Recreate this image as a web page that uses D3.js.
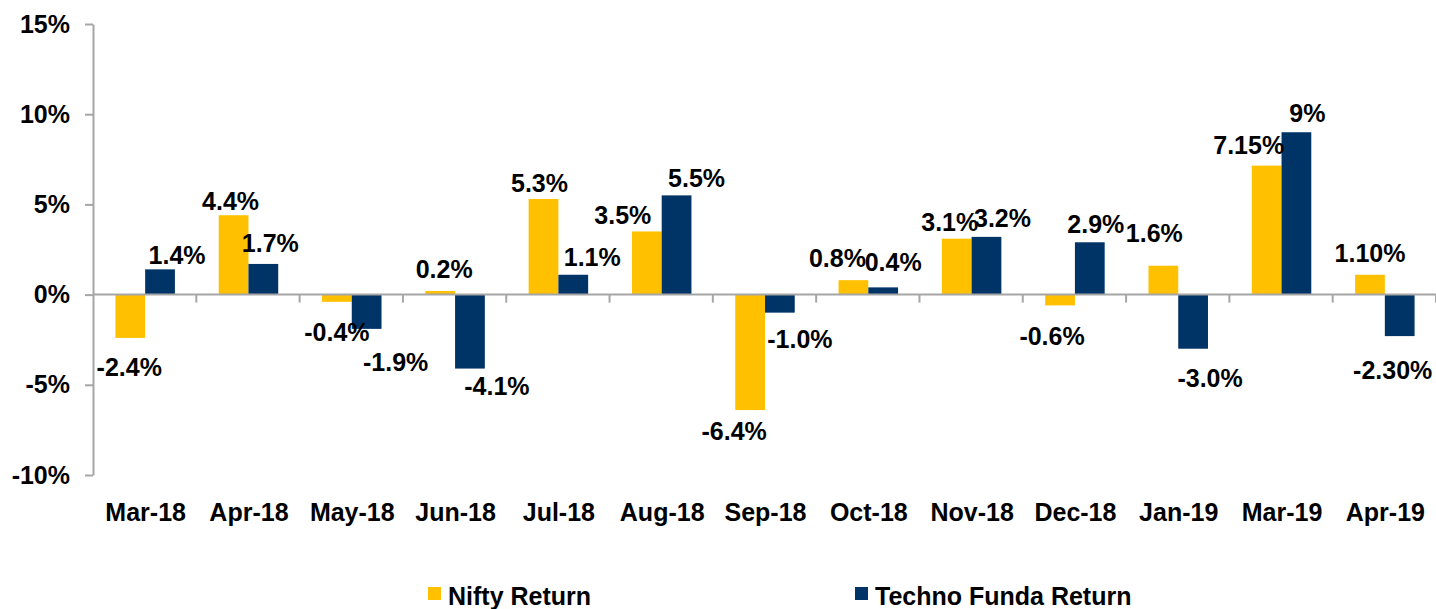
<!DOCTYPE html>
<html>
<head>
<meta charset="utf-8">
<script src="https://cdn.jsdelivr.net/npm/d3@7"></script>
<style>
  html, body { margin: 0; padding: 0; background: #fff; }
  svg text { font-family: "Liberation Sans", Arial, sans-serif; font-weight: bold; fill: #000; }
</style>
</head>
<body>
<svg id="chart" width="1436" height="609"></svg>
<script>
// data
const months = ['Mar-18', 'Apr-18', 'May-18', 'Jun-18', 'Jul-18', 'Aug-18', 'Sep-18',
  'Oct-18', 'Nov-18', 'Dec-18', 'Jan-19', 'Mar-19', 'Apr-19']
const niftyReturn = [-2.4, 4.4, -0.4, 0.2, 5.3, 3.5, -6.4, 0.8, 3.1, -0.6, 1.6, 7.15, 1.10]
const technoReturn = [1.4, 1.7, -1.9, -4.1, 1.1, 5.5, -1.0, 0.4, 3.2, 2.9, -3.0, 9, -2.30]
const niftyLabels = ['-2.4%', '4.4%', '-0.4%', '0.2%', '5.3%', '3.5%', '-6.4%', '0.8%', '3.1%', '-0.6%', '1.6%', '7.15%', '1.10%']
const technoLabels = ['1.4%', '1.7%', '-1.9%', '-4.1%', '1.1%', '5.5%', '-1.0%', '0.4%', '3.2%', '2.9%', '-3.0%', '9%', '-2.30%']
const yTicks = [-10, -5, 0, 5, 10, 15]
const seriesNames = ['Nifty Return', 'Techno Funda Return']

// layout / style
const COLORS = ['#FFC000', '#003366']
const AXIS_COLOR = '#a6a6a6'
const plot = { left: 93, right: 1436, top: 24, bottom: 475 }
const groupWidth = 59.5
// hand placed label shifts from the original (dx, dy) relative to default spot
const niftyNudge = [[-1, 0], [-3, 3], [0, 1], [4, -5], [-4, 1], [-24, 1], [-16, -8], [-16, -5], [-7, 0], [-8, 2], [-9, -16], [-18, -4], [0, -5]]
const technoNudge = [[17, 3], [7, -4], [29, 4], [27, -12], [19, -1], [20, 0], [20, -3], [10, -8], [16, -2], [6, -1], [17, 0], [11, -2], [-7, 5]]

const svg = d3.select('#chart')

const x = d3.scaleBand()
  .domain(months)
  .range([plot.left, plot.right])
  .paddingInner(0)
  .paddingOuter(0)

const xInner = d3.scaleBand()
  .domain([0, 1])
  .range([0, groupWidth])

const y = d3.scaleLinear()
  .domain([-10, 15])
  .range([plot.bottom, plot.top])

const rows = months.map((m, i) => ({
  month: m,
  values: [niftyReturn[i], technoReturn[i]],
  labels: [niftyLabels[i], technoLabels[i]],
  nudges: [niftyNudge[i], technoNudge[i]]
}))

// y axis
const yAxis = d3.axisLeft(y)
  .tickValues(yTicks)
  .tickFormat(d => d + '%')
  .tickSize(8)
  .tickSizeOuter(0)
  .tickPadding(15)

const yAxisGroup = svg.append('g')
  .attr('transform', `translate(${plot.left},0)`)
  .call(yAxis)
yAxisGroup.select('.domain').attr('stroke', AXIS_COLOR).attr('stroke-width', 2)
yAxisGroup.selectAll('.tick line').attr('stroke', AXIS_COLOR).attr('stroke-width', 2)
yAxisGroup.selectAll('.tick text')
  .attr('font-size', 25)
  .attr('font-family', '"Liberation Sans", Arial, sans-serif')
  .attr('font-weight', 'bold')
  .attr('fill', '#000')

// bars
const groups = svg.append('g')
  .selectAll('g.month')
  .data(rows)
  .join('g')
  .attr('class', 'month')
  .attr('transform', d => `translate(${x(d.month) + (x.bandwidth() - groupWidth) / 2 + 0.5},0)`)

groups.selectAll('rect')
  .data(d => d.values.map((v, k) => ({ v, k })))
  .join('rect')
  .attr('x', d => xInner(d.k))
  .attr('width', xInner.bandwidth())
  .attr('y', d => y(Math.max(0, d.v)))
  .attr('height', d => Math.abs(y(d.v) - y(0)))
  .attr('fill', d => COLORS[d.k])

// zero line and category ticks, drawn over the bars
const y0 = y(0)
svg.append('line')
  .attr('x1', plot.left).attr('x2', plot.right)
  .attr('y1', y0).attr('y2', y0)
  .attr('stroke', AXIS_COLOR).attr('stroke-width', 2)

svg.append('g')
  .selectAll('line')
  .data(months)
  .join('line')
  .attr('x1', d => x(d) + x.bandwidth())
  .attr('x2', d => x(d) + x.bandwidth())
  .attr('y1', y0)
  .attr('y2', y0 + 8)
  .attr('stroke', AXIS_COLOR)
  .attr('stroke-width', 2)

// category labels
svg.append('g')
  .selectAll('text')
  .data(months)
  .join('text')
  .attr('x', d => x(d) + x.bandwidth() / 2 + 1)
  .attr('y', 521)
  .attr('text-anchor', 'middle')
  .attr('font-size', 25)
  .text(d => d)

// value labels
groups.selectAll('text')
  .data(d => d.values.map((v, k) => ({ v, k, label: d.labels[k], nudge: d.nudges[k] })))
  .join('text')
  .attr('x', d => xInner(d.k) + xInner.bandwidth() / 2 + d.nudge[0])
  .attr('y', d => (d.v >= 0 ? y(d.v) - 8 : y(d.v) + 38) + d.nudge[1])
  .attr('text-anchor', 'middle')
  .attr('font-size', 25)
  .text(d => d.label)

// legend
const legendX = [428, 855]
const legend = svg.append('g')
  .selectAll('g')
  .data(seriesNames)
  .join('g')
  .attr('transform', (d, i) => `translate(${legendX[i]},0)`)

legend.append('rect')
  .attr('x', 0)
  .attr('y', 587)
  .attr('width', 13)
  .attr('height', 13)
  .attr('fill', (d, i) => COLORS[i])

legend.append('text')
  .attr('x', 20)
  .attr('y', 605)
  .attr('font-size', 25)
  .text(d => d)
</script>
</body>
</html>
